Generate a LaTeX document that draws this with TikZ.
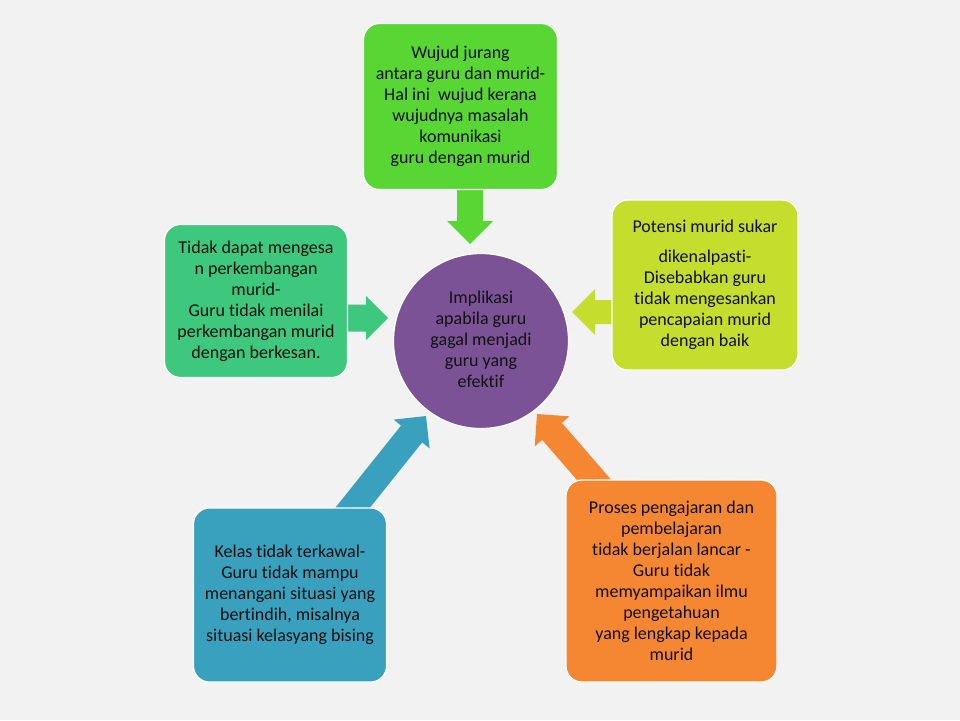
\documentclass[tikz,border=0pt]{standalone}
\usepackage{fontspec}
\setmainfont[Ligatures={NoCommon}]{Carlito}
\usetikzlibrary{calc}
\definecolor{bgc}{HTML}{F2F2F2}
\definecolor{cTop}{HTML}{58D634}
\definecolor{cLeft}{HTML}{3EC87D}
\definecolor{cRight}{HTML}{C5DD2D}
\definecolor{cBlue}{HTML}{39A0BE}
\definecolor{cOrange}{HTML}{F58732}
\definecolor{cPurple}{HTML}{7B5296}
\definecolor{txt}{HTML}{101010}
% #1 colour, #2 tail, #3 tip, #4 half shaft width, #5 half head width (= head length)
\newcommand{\blockarrow}[5]{%
  \fill[#1] let \p1=($(#3)-(#2)$), \n1={atan2(\y1,\x1)}, \n2={veclen(\x1,\y1)-#5} in
    ($(#2)+(\n1+90:#4pt)$)
    -- ($(#2)+(\n1:\n2)+(\n1+90:#4pt)$)
    -- ($(#2)+(\n1:\n2)+(\n1+90:#5pt)$)
    -- (#3)
    -- ($(#2)+(\n1:\n2)+(\n1-90:#5pt)$)
    -- ($(#2)+(\n1:\n2)+(\n1-90:#4pt)$)
    -- ($(#2)+(\n1-90:#4pt)$) -- cycle;}
\begin{document}
\begin{tikzpicture}[x=1pt,y=-1pt,
  box/.style={rectangle, rounded corners=16pt, draw=white, line width=1.2pt,
    align=center, text=txt, inner sep=4pt, font=\fontsize{18}{21}\selectfont},
  hub/.style={circle, draw=white, line width=1.2pt, align=center, text=txt,
    inner sep=0pt, font=\fontsize{18}{21}\selectfont}]
\fill[bgc] (0,0) rectangle (960,720);
\useasboundingbox (0,0) rectangle (960,720);

% arrow end points
\coordinate (tA) at (470,186);  \coordinate (hA) at (470,244);
\coordinate (tL) at (344,318);  \coordinate (hL) at (388,318);
\coordinate (tR) at (615,312);  \coordinate (hR) at (572,312);
\coordinate (tB) at (346,516);  \coordinate (hB) at (426,416);
\coordinate (tO) at (602,489);  \coordinate (hO) at (537,414);

\blockarrow{cTop}{tA}{hA}{13}{23}
\blockarrow{cLeft}{tL}{hL}{13.5}{22}
\blockarrow{cRight}{tR}{hR}{12}{23}
\blockarrow{cBlue}{tB}{hB}{13.5}{23}
\blockarrow{cOrange}{tO}{hO}{13}{23}

\node[box, fill=cTop, minimum width=194pt, minimum height=166pt] (top) at (460.5,106.5)
  {Wujud jurang\\antara guru dan murid-\\Hal ini\ \ wujud kerana\\wujudnya masalah\\komunikasi\\guru dengan murid};
\node[box, fill=cLeft, minimum width=183pt, minimum height=153pt] (left) at (256,301)
  {Tidak dapat mengesa\\n perkembangan\\murid-\\Guru tidak menilai\\perkembangan murid\\dengan berkesan.};
\node[box, fill=cRight, minimum width=186pt, minimum height=170pt] (right) at (705,285)
  {Potensi murid sukar\\[9pt]dikenalpasti-\\Disebabkan guru\\tidak mengesankan\\pencapaian murid\\dengan baik};
\node[box, fill=cBlue, minimum width=193pt, minimum height=174pt] (blue) at (290,595)
  {Kelas tidak terkawal-\\Guru tidak mampu\\menangani situasi yang\\bertindih, misalnya\\situasi kelasyang bising};
\node[box, fill=cOrange, minimum width=211pt, minimum height=202pt] (orange) at (671.5,581)
  {Proses pengajaran dan\\pembelajaran\\tidak berjalan lancar -\\Guru tidak\\memyampaikan ilmu\\pengetahuan\\yang lengkap kepada\\murid};
\node[hub, fill=cPurple, minimum size=175pt] (hub) at (481,341)
  {\raisebox{3pt}{\begin{tabular}{@{}c@{}}Implikasi\\apabila guru\\gagal menjadi\\guru yang\\efektif\end{tabular}}};
\end{tikzpicture}
\end{document}
